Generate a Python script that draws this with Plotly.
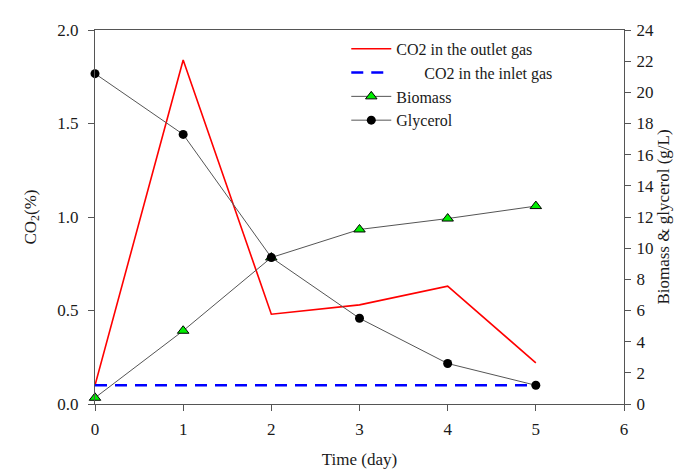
import plotly.graph_objects as go

days = [0, 1, 2, 3, 4, 5]
co2_outlet = [0.10, 1.84, 0.48, 0.53, 0.63, 0.22]
co2_inlet = [0.10, 0.10, 0.10, 0.10, 0.10, 0.10]
biomass = [0.4, 4.7, 9.4, 11.2, 11.9, 12.7]
glycerol = [21.2, 17.3, 9.4, 5.5, 2.6, 1.2]

FONT = "Liberation Serif"
FS = 17

fig = go.Figure()
fig.add_trace(go.Scatter(x=days, y=co2_outlet, mode="lines", name="CO2 in the outlet gas",
                         line=dict(color="#ff0000", width=1.6), cliponaxis=False))
fig.add_trace(go.Scatter(x=days, y=co2_inlet, mode="lines", name="       CO2 in the inlet gas",
                         line=dict(color="#0000ff", width=2.5, dash="12px,8px"), cliponaxis=False))
fig.add_trace(go.Scatter(x=days, y=biomass, mode="lines+markers", name="Biomass", yaxis="y2",
                         line=dict(color="#555555", width=1),
                         marker=dict(symbol="triangle-up", size=10, color="#00ee00",
                                     line=dict(color="#000000", width=1)), cliponaxis=False))
fig.add_trace(go.Scatter(x=days, y=glycerol, mode="lines+markers", name="Glycerol", yaxis="y2",
                         line=dict(color="#555555", width=1),
                         marker=dict(symbol="circle", size=9, color="#000000"), cliponaxis=False))

axis_common = dict(showgrid=False, zeroline=False, showline=True, linecolor="#555555", linewidth=1,
                   ticks="outside", ticklen=6, tickcolor="#555555",
                   tickfont=dict(family=FONT, size=FS, color="#1a1a1a"))

fig.update_layout(
    width=683, height=469,
    margin=dict(l=87, r=67, t=22, b=67),
    paper_bgcolor="white", plot_bgcolor="white",
    font=dict(family=FONT, size=FS, color="#1a1a1a"),
    xaxis=dict(range=[0, 6], dtick=1, mirror=True, ticklabelstandoff=4,
               title=dict(text="Time (day)", font=dict(family=FONT, size=FS), standoff=14),
               **axis_common),
    yaxis=dict(range=[0, 2.0], dtick=0.5, tickformat=".1f", ticklabelstandoff=6,
               title=dict(text="CO<sub>2</sub>(%)", font=dict(family=FONT, size=FS), standoff=16),
               **axis_common),
    yaxis2=dict(range=[0, 24], dtick=2, overlaying="y", side="right", ticklabelstandoff=2,
                title=dict(text="Biomass & glycerol (g/L)", font=dict(family=FONT, size=FS), standoff=4),
                **axis_common),
    legend=dict(x=0.475, y=0.995, xanchor="left", yanchor="top", bgcolor="rgba(0,0,0,0)",
                font=dict(family=FONT, size=16), tracegroupgap=0, itemwidth=40,
                traceorder="normal"),
    showlegend=True,
)

fig.write_html("out.html")
